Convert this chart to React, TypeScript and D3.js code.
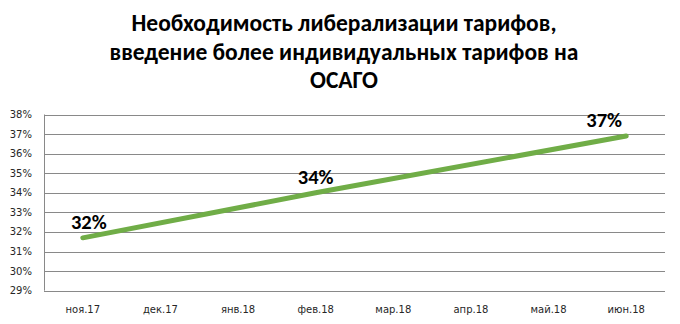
import React from "react";
import * as d3 from "d3";

const categories = ["ноя.17", "дек.17", "янв.18", "фев.18", "мар.18", "апр.18", "май.18", "июн.18"];
const seriesValues: (number | null)[] = [31.7, null, null, 34.0, null, null, null, 36.9];
const pointLabels: (string | null)[] = ["32%", null, null, "34%", null, null, null, "37%"];
const labelDx: number[] = [6, 0, 0, 0, 0, 0, 0, -22];
const yTicks = [29, 30, 31, 32, 33, 34, 35, 36, 37, 38];
const titleLines = [
  "Необходимость либерализации тарифов,",
  "введение более индивидуальных тарифов на",
  "ОСАГО",
];

const W = 680;
const H = 324;
const M = { left: 44, right: 15, top: 114.5, bottom: 33.3 };

export default function App() {
  const x = d3.scaleBand<string>().domain(categories).range([M.left, W - M.right]);
  const y = d3.scaleLinear().domain([29, 38]).range([H - M.bottom, M.top]);
  const pts = categories
    .map((c, i) => ({ c, v: seriesValues[i], l: pointLabels[i], dx: labelDx[i] }))
    .filter((d) => d.v !== null) as { c: string; v: number; l: string | null; dx: number }[];
  const line = d3
    .line<{ c: string; v: number }>()
    .x((d) => (x(d.c) as number) + x.bandwidth() / 2)
    .y((d) => y(d.v));
  const font = "Calibri, Carlito, 'Open Sans', sans-serif";
  const axisFont = "'DejaVu Sans', Verdana, sans-serif";
  return (
    <svg
      width={W}
      height={H}
      style={{ position: "absolute", left: 0, top: 0, background: "#fff" }}
    >
      {titleLines.map((t, i) => (
        <text
          key={i}
          x={344}
          y={31 + i * 28.5}
          textAnchor="middle"
          fontFamily={font}
          fontWeight="bold"
          fontSize={23.5}
          fill="#000"
        >
          {t}
        </text>
      ))}
      {yTicks.map((t) => (
        <g key={t}>
          <line
            x1={M.left}
            x2={W - M.right}
            y1={Math.round(y(t)) + 0.5}
            y2={Math.round(y(t)) + 0.5}
            stroke="#898989"
            strokeWidth={1}
          />
          <text
            x={32}
            y={y(t)}
            dy="0.35em"
            textAnchor="end"
            fontFamily={axisFont}
            fontSize={10}
            fill="#262626"
          >
            {t}%
          </text>
        </g>
      ))}
      <line
        x1={M.left + 0.5}
        x2={M.left + 0.5}
        y1={y(38)}
        y2={y(29)}
        stroke="#898989"
        strokeWidth={1}
      />
      {categories.map((c) => (
        <text
          key={c}
          x={(x(c) as number) + x.bandwidth() / 2}
          y={309}
          dy="0.35em"
          textAnchor="middle"
          fontFamily={axisFont}
          fontSize={10}
          fill="#262626"
        >
          {c}
        </text>
      ))}
      <path
        d={line(pts) || ""}
        fill="none"
        stroke="#70AD47"
        strokeWidth={5}
        strokeLinecap="round"
        strokeLinejoin="round"
      />
      {pts
        .filter((d) => d.l)
        .map((d) => (
          <text
            key={d.c}
            x={(x(d.c) as number) + x.bandwidth() / 2 + d.dx}
            y={y(d.v) - 9}
            textAnchor="middle"
            fontFamily={font}
            fontWeight="bold"
            fontSize={20.5}
            fill="#000"
          >
            {d.l}
          </text>
        ))}
    </svg>
  );
}
